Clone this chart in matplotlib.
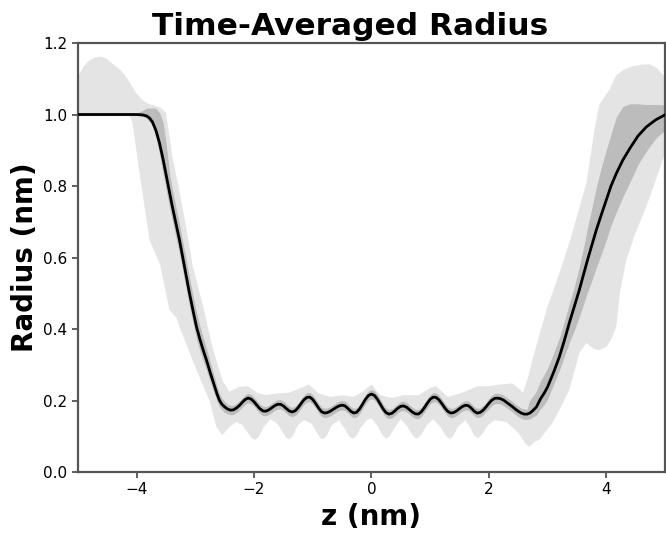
import numpy as np
import matplotlib
matplotlib.use("Agg")
import matplotlib.pyplot as plt

# ---- mean radius profile ----
z_mean = [-5.0, -4.5, -4.2, -4.0, -3.9, -3.83, -3.78, -3.73, -3.67, -3.61, -3.55, -3.49,
          -3.44, -3.39, -3.33, -3.27, -3.22, -3.16, -3.10, -3.04, -2.98, -2.92, -2.86, -2.81,
          -2.75, -2.67, -2.63, -2.59, -2.55, -2.5,
          -2.45, -2.4, -2.35, -2.3, -2.25, -2.2, -2.15, -2.1, -2.05, -2.0, -1.95, -1.9, -1.85,
          -1.8, -1.75, -1.7, -1.65, -1.6, -1.55, -1.5, -1.45, -1.4, -1.35, -1.3, -1.25, -1.2,
          -1.15, -1.1, -1.05, -1.0, -0.95, -0.9, -0.85, -0.8, -0.75, -0.7, -0.65, -0.6, -0.55,
          -0.5, -0.45, -0.4, -0.35, -0.3, -0.25, -0.2, -0.15, -0.1, -0.05, 0.0, 0.05, 0.1, 0.15,
          0.2, 0.25, 0.3, 0.35, 0.4, 0.45, 0.5, 0.55, 0.6, 0.65, 0.7, 0.75, 0.8, 0.85, 0.9, 0.95,
          1.0, 1.05, 1.1, 1.15, 1.2, 1.25, 1.3, 1.35, 1.4, 1.45, 1.5, 1.55, 1.6, 1.65, 1.7, 1.75,
          1.8, 1.85, 1.9, 1.95, 2.0, 2.05, 2.1, 2.15, 2.2, 2.25, 2.3, 2.35, 2.4, 2.45, 2.5, 2.55,
          2.6, 2.65,
          2.7, 2.75, 2.81, 2.88, 2.94, 3.0, 3.1, 3.2, 3.28, 3.37, 3.45, 3.54, 3.61, 3.68, 3.76,
          3.83, 3.92, 4.0, 4.08, 4.17, 4.28, 4.4, 4.54, 4.68, 4.84, 5.0]
r_mean = [1.0, 1.0, 1.0, 1.0, 0.999, 0.996, 0.99, 0.979, 0.955, 0.92, 0.875, 0.825,
          0.783, 0.741, 0.695, 0.649, 0.605, 0.553, 0.500, 0.452, 0.406, 0.37, 0.338, 0.313,
          0.28, 0.238, 0.218, 0.201, 0.19, 0.182,
          0.176, 0.173, 0.174, 0.179, 0.186, 0.195, 0.203, 0.207, 0.204, 0.1965, 0.1864, 0.177, 0.171,
          0.170, 0.1736, 0.1794, 0.1854, 0.1893, 0.1895, 0.185, 0.1775, 0.1707, 0.168, 0.1712, 0.1799, 0.1913,
          0.2021, 0.2088, 0.2095, 0.2029, 0.1914, 0.1787, 0.1687, 0.165, 0.1664, 0.1702, 0.1754, 0.1808, 0.185,
          0.187, 0.1849, 0.1777, 0.1695, 0.165, 0.1674, 0.1767, 0.1901, 0.204, 0.2142, 0.218, 0.2143, 0.204, 0.19,
          0.176, 0.1658, 0.162, 0.1645, 0.1712, 0.1787, 0.184, 0.1848, 0.1809, 0.1742, 0.1673, 0.1628, 0.1622, 0.1686, 0.1796, 0.1924,
          0.2034, 0.2094, 0.2088, 0.202, 0.1911, 0.1792, 0.1696, 0.165, 0.1663, 0.1709, 0.1773, 0.1833, 0.1867, 0.1857, 0.1787, 0.17,
          0.165, 0.1666, 0.1726, 0.1819, 0.1921, 0.2009, 0.2061, 0.2067, 0.205, 0.201, 0.195, 0.189, 0.183, 0.176, 0.17, 0.165,
          0.162, 0.162,
          0.165, 0.172, 0.182, 0.205, 0.22, 0.238, 0.278, 0.322, 0.365, 0.417, 0.46, 0.509, 0.551, 0.593, 0.638,
          0.677, 0.722, 0.761, 0.80, 0.835, 0.872, 0.905, 0.94, 0.965, 0.985, 0.999]

# ---- inner (dark) band: spread above / below the mean (same points as the mean) ----
dark_up = ([0.003, 0.003, 0.003, 0.004, 0.012, 0.022, 0.028, 0.040, 0.062, 0.085, 0.105, 0.085,
            0.053, 0.048, 0.046, 0.045, 0.044, 0.044, 0.044, 0.042, 0.040, 0.037, 0.034, 0.032,
            0.030, 0.025, 0.022, 0.020, 0.017, 0.015]
           + [0.013] * 89 + [0.014] * 14
           + [0.037, 0.040, 0.045, 0.050, 0.052, 0.053, 0.053, 0.053, 0.053, 0.054, 0.055, 0.065, 0.075, 0.090, 0.105,
              0.120, 0.133, 0.140, 0.145, 0.158, 0.150, 0.125, 0.090, 0.063, 0.043, 0.028])
dark_lo = ([0.003, 0.003, 0.003, 0.003, 0.004, 0.006, 0.010, 0.012, 0.020, 0.030, 0.040, 0.042,
            0.042, 0.040, 0.039, 0.038, 0.038, 0.037, 0.036, 0.035, 0.034, 0.032, 0.030, 0.028,
            0.026, 0.022, 0.020, 0.018, 0.016, 0.015]
           + [0.013] * 89 + [0.015] * 14
           + [0.016, 0.018, 0.022, 0.028, 0.032, 0.034, 0.034, 0.038, 0.045, 0.055, 0.066, 0.075, 0.082, 0.090, 0.100,
              0.105, 0.110, 0.112, 0.110, 0.108, 0.103, 0.095, 0.080, 0.068, 0.052, 0.042])

# ---- outer (light) band edges ----
z_light_hi = [-5.0, -4.9, -4.8, -4.7, -4.6, -4.5, -4.42, -4.3, -4.2, -4.1, -4.0, -3.9, -3.8, -3.7,
              -3.6, -3.5, -3.45, -3.39, -3.3, -3.22, -3.13, -3.05, -2.88, -2.71, -2.54, -2.42,
              -2.25, -2.1, -1.95, -1.8, -1.6, -1.4, -1.2, -1.07, -0.9, -0.7, -0.5, -0.3, -0.15,
              0.0, 0.15, 0.35, 0.55, 0.8, 1.0, 1.1, 1.3, 1.55, 1.8, 2.0, 2.2, 2.4, 2.5, 2.58,
              2.66, 2.74, 2.98, 3.25, 3.42, 3.66, 3.80, 3.88, 4.05, 4.17, 4.3, 4.45, 4.62, 4.75,
              4.86, 5.0]
r_light_hi = [1.105, 1.135, 1.152, 1.16, 1.162, 1.155, 1.143, 1.128, 1.11, 1.085, 1.058, 1.04, 1.03, 1.025,
              1.02, 1.005, 0.95, 0.881, 0.81, 0.741, 0.66, 0.58, 0.472, 0.35, 0.257, 0.225,
              0.238, 0.24, 0.222, 0.215, 0.22, 0.222, 0.235, 0.245, 0.22, 0.21, 0.215, 0.21, 0.225,
              0.245, 0.215, 0.207, 0.215, 0.215, 0.235, 0.24, 0.21, 0.222, 0.24, 0.24, 0.245, 0.248, 0.235, 0.222,
              0.26, 0.313, 0.453, 0.58, 0.668, 0.808, 0.957, 1.027, 1.069, 1.11, 1.125, 1.135, 1.14, 1.14,
              1.13, 1.105]
z_light_lo = [-5.0, -4.15, -4.1, -4.07, -3.95, -3.78, -3.6, -3.44, -3.32, -3.27, -2.98, -2.76, -2.64,
              -2.54, -2.42, -2.3, -2.2, -2.1, -2.04, -1.98, -1.92, -1.84, -1.72, -1.6, -1.5, -1.45,
              -1.4, -1.34, -1.26, -1.15, -1.02, -0.93, -0.87, -0.82, -0.76, -0.68, -0.55, -0.45,
              -0.38, -0.32, -0.26, -0.18, -0.08, 0.0, 0.1, 0.18, 0.25, 0.31, 0.4, 0.5, 0.6, 0.7,
              0.77, 0.84, 0.94, 1.05, 1.18, 1.27, 1.33, 1.39, 1.48, 1.6, 1.7, 1.76, 1.82, 1.88,
              1.98, 2.1, 2.3, 2.5, 2.62, 2.69, 2.78, 2.86, 3.08, 3.2, 3.37, 3.54, 3.66, 3.78, 3.88,
              4.0, 4.08, 4.17, 4.23, 4.34, 4.5, 4.68, 4.85, 5.0]
r_light_lo = [1.0, 1.0, 0.99, 0.976, 0.836, 0.649, 0.58, 0.453, 0.431, 0.406, 0.285, 0.201, 0.126,
              0.103, 0.126, 0.14, 0.132, 0.108, 0.095, 0.09, 0.098, 0.125, 0.148, 0.135, 0.108, 0.095,
              0.092, 0.1, 0.13, 0.145, 0.135, 0.11, 0.095, 0.092, 0.102, 0.13, 0.145, 0.12,
              0.1, 0.093, 0.1, 0.125, 0.145, 0.15, 0.13, 0.105, 0.093, 0.1, 0.125, 0.148, 0.13, 0.103,
              0.093, 0.102, 0.13, 0.148, 0.125, 0.1, 0.093, 0.1, 0.128, 0.145, 0.12, 0.1, 0.095, 0.105,
              0.13, 0.145, 0.14, 0.11, 0.08, 0.07, 0.085, 0.09, 0.137, 0.173, 0.229, 0.333, 0.361, 0.345, 0.341,
              0.35, 0.37, 0.406, 0.5, 0.593, 0.67, 0.741, 0.82, 0.892]

x_ticks = [-4, -2, 0, 2, 4]
y_ticks = [0.0, 0.2, 0.4, 0.6, 0.8, 1.0, 1.2]

zm = np.array(z_mean)
rm = np.array(r_mean)
du = np.array(dark_up)
dl = np.array(dark_lo)

fig = plt.figure(figsize=(6.66, 5.33), dpi=100)
ax = fig.add_axes([0.117, 0.1144, 0.8815, 0.8049])

ax.fill(np.concatenate([z_light_hi, z_light_lo[::-1]]),
        np.concatenate([r_light_hi, r_light_lo[::-1]]),
        color="#e4e4e4", lw=0, zorder=1)
ax.fill_between(zm, rm - dl, rm + du, color="#bcbcbc", lw=0, zorder=2)
ax.plot(zm, rm, color="black", lw=2.0, zorder=3)

ax.set_xlim(-5, 5)
ax.set_ylim(0, 1.2)
ax.set_xticks(x_ticks)
ax.set_yticks(y_ticks)
ax.set_yticklabels([f"{v:.1f}" for v in y_ticks])
ax.set_xticklabels([f"\u2212{abs(v)}" if v < 0 else f"{v}" for v in x_ticks])
ax.tick_params(labelsize=11, length=4, width=1.2, color="#444444")
for s in ax.spines.values():
    s.set_color("#555555")
    s.set_linewidth(1.6)

ax.set_title("Time-Averaged Radius", fontsize=22.5, fontweight="bold", pad=6, x=0.464)
ax.set_xlabel("z (nm)", fontsize=20, fontweight="bold", labelpad=4)
ax.set_ylabel("Radius (nm)", fontsize=20, fontweight="bold", labelpad=3)

fig.savefig("out.png", dpi=100)
